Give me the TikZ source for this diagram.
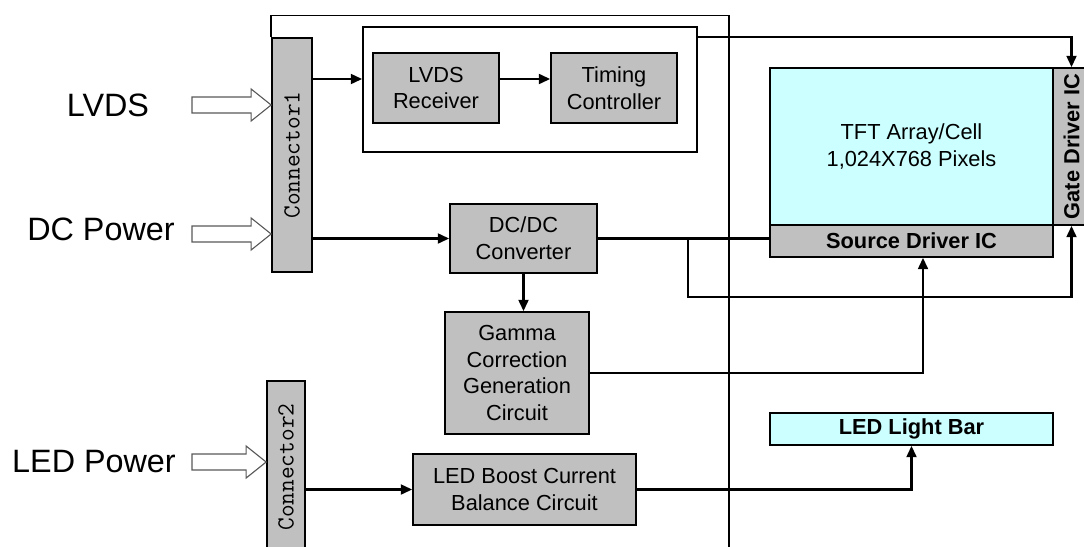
\documentclass[tikz,border=0pt]{standalone}
\usepackage{fontspec}
\setmainfont{Liberation Sans}
\usepackage{tikz}
\usetikzlibrary{arrows.meta,positioning,calc}

\definecolor{boxgray}{HTML}{C0C0C0}
\definecolor{panelcyan}{HTML}{CCFFFF}
\newcommand{\boxfont}{\fontsize{15.5}{19}\selectfont}
\newcommand{\connfont}{\ttfamily\fontsize{17.5}{19}\selectfont}

% outlined input arrow, #1 tail, #2 tip
\newcommand{\hollowarrow}[2]{%
  \draw[hollow] ($(#1)+(0,-8)$) -- ($(#2)+(-20,-8)$) -- ($(#2)+(-20,-16)$)
    -- (#2) -- ($(#2)+(-20,16)$) -- ($(#2)+(-20,8)$) -- ($(#1)+(0,8)$) -- cycle;}

\begin{document}
\begin{tikzpicture}[x=0.025cm, y=-0.025cm,
    block/.style={draw, line width=1.2pt, fill=boxgray, align=center, inner sep=0pt, font=\boxfont},
    panel/.style={block, fill=panelcyan},
    conn/.style={line width=1.6pt, -{Triangle[length=8pt,width=7pt]}},
    wire/.style={line width=1.6pt},
    hollow/.style={draw=black!65, line width=0.8pt, fill=white},
    inlabel/.style={font=\fontsize{23}{26}\selectfont}]
    \useasboundingbox (0,0) rectangle (1084,546);

    % connectors
    \node[block, minimum width=1cm, minimum height=5.85cm] (c1) at (292,155)
        {\rotatebox{90}{\connfont Connector1}};
    \node[block, minimum width=0.95cm, minimum height=4.3cm] (c2) at (286,467)
        {\rotatebox{90}{\connfont Connector2}};

    % board frame
    \coordinate (ftop) at (729,15.5);
    \coordinate (fbot) at (729,552);
    \draw[line width=1.2pt] (c1.north west) |- (ftop) -- (fbot);

    % inputs
    \node[inlabel] (lvds) at (108,105) {LVDS};
    \node[inlabel] (dcin) at (101,229) {DC Power};
    \node[inlabel] (ledin) at (94,462) {LED Power};
    \coordinate (tailx) at (192,0);
    \coordinate (lvdstail) at (tailx |- lvds);
    \coordinate (lvdstip) at (c1.west |- lvds);
    \coordinate (dctail) at (192,234);
    \coordinate (dctip) at (c1.west |- dctail);
    \coordinate (ledtail) at (tailx |- ledin);
    \coordinate (ledtip) at (c2.west |- ledin);
    \hollowarrow{lvdstail}{lvdstip}
    \hollowarrow{dctail}{dctip}
    \hollowarrow{ledtail}{ledtip}

    % timing block
    \node[draw, line width=1.2pt, fill=white, minimum width=8.35cm, minimum height=3.125cm] (inbox) at (530,89.5) {};
    \node[block, minimum width=3.15cm, minimum height=1.75cm] (rx) at (436,88) {LVDS\\Receiver};
    \node[block, minimum width=3.15cm, minimum height=1.75cm] (tc) at (614,88) {Timing\\Controller};

    % power blocks
    \node[block, minimum width=3.675cm, minimum height=1.725cm] (dcdc) at (523.5,238.5) {DC/DC\\Converter};
    \node[block, minimum width=3.6cm, minimum height=3.05cm] (gamma) at (517,373)
        {Gamma\\Correction\\Generation\\Circuit};
    \node[block, minimum width=5.575cm, minimum height=1.775cm] (boost) at (524.5,489.5)
        {LED Boost Current\\Balance Circuit};

    % panel
    \node[panel, minimum width=7.075cm, minimum height=3.925cm] (tft) at (911.5,146.5)
        {TFT Array/Cell\\1,024X768 Pixels};
    \node[block, minimum width=7.075cm, minimum height=0.8cm, font=\boxfont\bfseries] (src) at (911.5,241)
        {Source Driver IC};
    \node[block, minimum width=0.925cm, minimum height=3.925cm, font=\boxfont\bfseries] (gate) at (1071.5,146.5)
        {\rotatebox{90}{Gate Driver IC}};
    \node[panel, minimum width=7.075cm, minimum height=0.8cm, font=\boxfont\bfseries] (bar) at (911.5,429)
        {LED Light Bar};

    % signal path
    \coordinate (sigline) at (0,79);
    \coordinate (gateline) at (0,37);
    \draw[conn] (c1.east |- sigline) -- (inbox.west |- sigline);
    \draw[conn] (rx.east |- sigline) -- (tc.west |- sigline);
    \draw[conn] (inbox.east |- gateline) -| (gate.north);

    % power path
    \coordinate (gatebus) at (688,297);
    \coordinate (srcin) at (923,0);
    \draw[conn] (c1.east |- dcdc.west) -- (dcdc.west);
    \draw[wire] (dcdc.east) -- (src.west |- dcdc.east);
    \draw[conn] (gatebus |- dcdc.east) -- (gatebus) -| (gate.south);
    \draw[conn] (dcdc.south) -- (dcdc.south |- gamma.north);
    \draw[conn] (gamma.east) -| (srcin |- src.south);
    \draw[conn] (c2.east |- boost.west) -- (boost.west);
    \draw[conn] (boost.east) -| (bar.south);
\end{tikzpicture}
\end{document}
